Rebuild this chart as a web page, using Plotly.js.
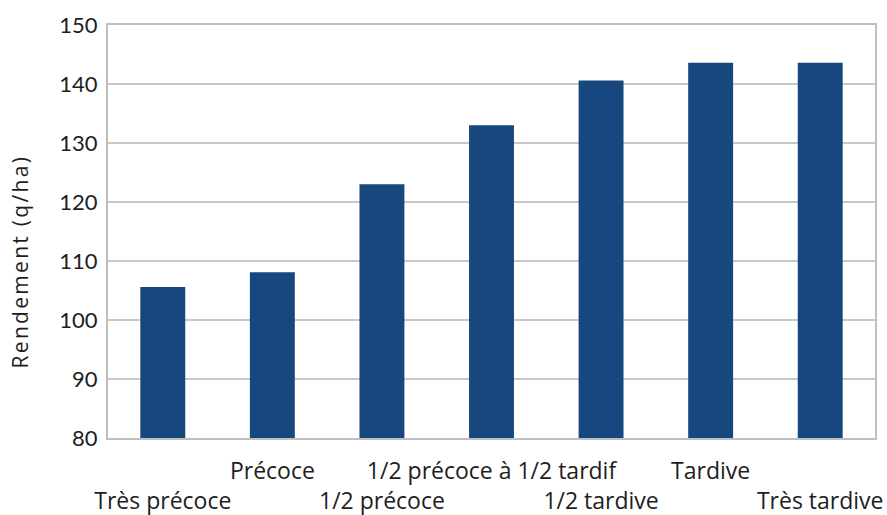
<!DOCTYPE html>
<html><head><meta charset="utf-8">
<script src="https://cdn.plot.ly/plotly-3.0.1.min.js"></script>
<style>
html,body{margin:0;padding:0;background:#fff}
#chart{width:887px;height:515px}
#chart .annotation-text{letter-spacing:2.3px}
</style>
</head><body><div id="chart"></div>
<script>
const categories = ["Très précoce","Précoce","1/2 précoce","1/2 précoce à 1/2 tardif","1/2 tardive","Tardive","Très tardive"];
const rendement = [105.6, 108.1, 123.0, 133.0, 140.6, 143.6, 143.6];
const yTicks = [80, 90, 100, 110, 120, 130, 140, 150];
const yTitle = "Rendement (q/ha)";
const tickText = categories.map((c, i) => i % 2 === 0 ? "<br>" + c : c);

Plotly.newPlot("chart", [{
  type: "bar",
  x: categories,
  y: rendement,
  marker: {color: "#17477f"},
  hoverinfo: "x+y"
}], {
  width: 887, height: 515,
  margin: {l: 108, r: 12, t: 25, b: 77},
  paper_bgcolor: "#fff", plot_bgcolor: "#fff",
  bargap: 0.59,
  showlegend: false,
  font: {family: "'Open Sans', sans-serif", color: "#1e1e1e", size: 22},
  xaxis: {
    tickmode: "array", tickvals: categories, ticktext: tickText,
    showline: true, mirror: true, linecolor: "#bfbfbf", linewidth: 2,
    ticks: "", ticklabelstandoff: 11,
    tickfont: {family: "'Open Sans', sans-serif", size: 23}, tickangle: 0, automargin: false
  },
  yaxis: {
    range: [80, 150], tickvals: yTicks,
    showline: true, mirror: true, linecolor: "#bfbfbf", linewidth: 2,
    gridcolor: "#c8c8c8", gridwidth: 1.5, zeroline: false,
    ticks: "", ticklabelstandoff: 4,
    tickfont: {family: "Lato, sans-serif", size: 22}, automargin: false
  },
  annotations: [{
    text: yTitle, xref: "paper", yref: "paper",
    x: -0.1147, y: 0.426, xanchor: "center", yanchor: "middle",
    textangle: -90, showarrow: false,
    font: {family: "'Open Sans', sans-serif", size: 21, color: "#1e1e1e"}
  }]
}, {displayModeBar: false, staticPlot: true});
</script></body></html>
